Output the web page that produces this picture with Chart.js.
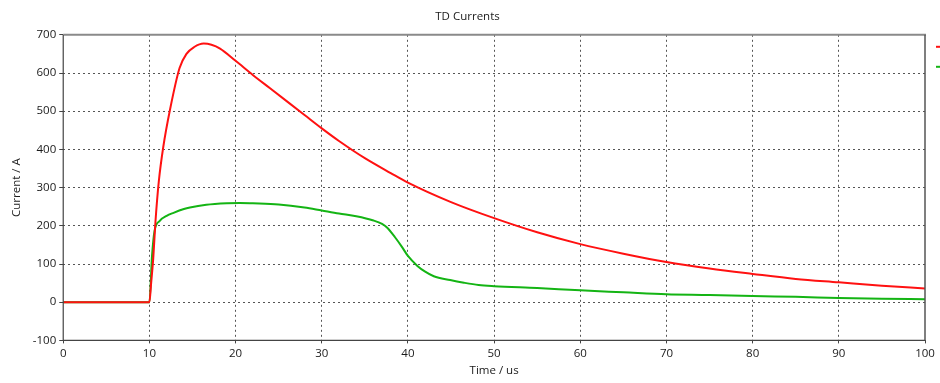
<!DOCTYPE html>
<html>
<head>
<meta charset="utf-8">
<script src="https://cdn.jsdelivr.net/npm/chart.js@4.4.1/dist/chart.umd.min.js"></script>
<style>
  html, body { margin: 0; padding: 0; background: #ffffff; }
  #wrap { width: 940px; height: 383px; position: relative; }
</style>
</head>
<body>
<div id="wrap"><canvas id="c" width="940" height="383"></canvas></div>
<script>
const chartTitle = "TD Currents";
const xTitle = "Time / us";
const yTitle = "Current / A";

const redTime = [0, 10, 10.2, 10.45, 10.7, 11.1, 11.6, 12.4, 13.5, 14.3, 15.2, 16.3, 17.2, 18.2, 20, 22, 24, 26, 28, 30, 32, 35, 38, 40, 45, 50, 55, 60, 65, 70, 75, 80, 85, 90, 95, 100];
const redCurrent = [0, 0, 50, 116, 210, 318, 405, 505, 613, 650, 668, 677, 674, 664, 632, 595, 560, 525, 490, 455, 422, 377, 338, 313, 262, 220, 183, 152, 127, 105, 88, 74, 61, 52, 43, 36];

const greenTime = [0, 10, 10.3, 10.6, 11.2, 12, 12.8, 14, 14.7, 16.6, 19, 20.5, 22, 25, 28, 30, 32, 34, 36, 37, 37.6, 38.5, 39.3, 40, 41.1, 42, 43, 44.9, 46.5, 48.2, 50, 55, 60, 65, 70, 75, 80, 85, 90, 95, 100];
const greenCurrent = [0, 0, 120, 187, 213, 226, 234, 244, 248, 255, 259, 260, 259, 256, 248, 240, 232, 225, 214, 205, 195, 170, 145, 121, 95, 80, 68, 58, 51, 45, 42, 37, 31, 26, 21, 19, 16, 14, 11, 9, 8];

const xTicks = [0, 10, 20, 30, 40, 50, 60, 70, 80, 90, 100];
const yTicks = [-100, 0, 100, 200, 300, 400, 500, 600, 700];

const seriesNames = ["I1", "I2"];
const seriesColors = ["#ff1111", "#14b414"];

function pts(t, v) { return t.map((x, i) => ({ x: x, y: v[i] })); }

const FONT = "'Open Sans', Tahoma, sans-serif";
const FSIZE = 11.5;

const framePlugin = {
  id: 'frame',
  afterDatasetsDraw(chart) {
    const { ctx, chartArea: a } = chart;
    ctx.save();
    ctx.strokeStyle = '#8a8a8a';
    ctx.lineWidth = 2;
    ctx.beginPath(); ctx.moveTo(a.left, a.top); ctx.lineTo(a.right + 1, a.top); ctx.stroke();
    ctx.strokeStyle = '#555555';
    ctx.lineWidth = 1.5;
    ctx.beginPath(); ctx.moveTo(a.right, a.top); ctx.lineTo(a.right, a.bottom); ctx.stroke();
    ctx.strokeStyle = '#444444';
    ctx.lineWidth = 1.2;
    ctx.beginPath(); ctx.moveTo(a.left, a.top); ctx.lineTo(a.left, a.bottom); ctx.lineTo(a.right, a.bottom); ctx.stroke();
    chart.data.datasets.forEach((ds, i) => {
      ctx.strokeStyle = ds.borderColor;
      ctx.lineWidth = 2;
      const y = a.top + 12 + i * 20;
      ctx.beginPath(); ctx.moveTo(chart.width - 4, y); ctx.lineTo(chart.width, y); ctx.stroke();
    });
    ctx.restore();
  }
};

new Chart(document.getElementById('c'), {
  type: 'line',
  data: {
    datasets: [
      { label: seriesNames[0], data: pts(redTime, redCurrent), borderColor: seriesColors[0], backgroundColor: seriesColors[0], borderWidth: 2, pointRadius: 0, cubicInterpolationMode: 'monotone', fill: false },
      { label: seriesNames[1], data: pts(greenTime, greenCurrent), borderColor: seriesColors[1], backgroundColor: seriesColors[1], borderWidth: 2, pointRadius: 0, cubicInterpolationMode: 'monotone', fill: false }
    ]
  },
  options: {
    responsive: false,
    animation: false,
    events: [],
    layout: { padding: { left: 10, right: 15, top: 0, bottom: 5 } },
    plugins: {
      legend: { display: false },
      tooltip: { enabled: false },
      title: { display: true, text: chartTitle, color: '#1a1a1a', font: { family: FONT, size: FSIZE, weight: 'normal' }, padding: { top: 10, bottom: 11 } }
    },
    scales: {
      x: {
        type: 'linear', min: 0, max: 100,
        afterBuildTicks(axis) { axis.ticks = xTicks.map(v => ({ value: v })); },
        ticks: { color: '#1a1a1a', font: { family: FONT, size: FSIZE }, padding: 3, maxRotation: 0 },
        grid: {
          color: (c) => (c.tick && (c.tick.value === 0 || c.tick.value === 100)) ? 'rgba(0,0,0,0)' : '#555',
          lineWidth: 1, tickLength: 3, drawTicks: true,
          tickColor: '#444'
        },
        border: { display: false, dash: [2, 3] },
        title: { display: true, text: xTitle, color: '#1a1a1a', font: { family: FONT, size: FSIZE }, padding: { top: 1, bottom: 0 } }
      },
      y: {
        type: 'linear', min: -100, max: 700,
        afterBuildTicks(axis) { axis.ticks = yTicks.map(v => ({ value: v })); },
        ticks: { color: '#1a1a1a', font: { family: FONT, size: FSIZE }, padding: 3 },
        grid: {
          color: (c) => (c.tick && (c.tick.value === -100 || c.tick.value === 700)) ? 'rgba(0,0,0,0)' : '#555',
          lineWidth: 1, tickLength: 4, tickColor: '#444'
        },
        border: { display: false, dash: [2, 3] },
        title: { display: true, text: yTitle, color: '#1a1a1a', font: { family: FONT, size: FSIZE }, padding: { top: 0, bottom: 6 } }
      }
    }
  },
  plugins: [framePlugin]
});
</script>
</body>
</html>
